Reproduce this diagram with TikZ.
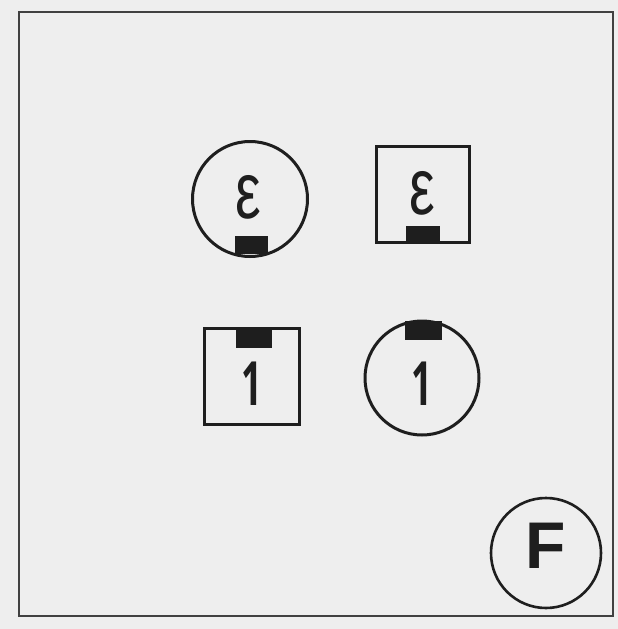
\documentclass[tikz,border=0pt]{standalone}
\usepackage{fontspec}
\setmainfont{Liberation Sans}
\newfontfamily\onefont{Open Sans}
\usepackage{graphicx}
\definecolor{bg}{HTML}{EEEEEE}
\definecolor{ink}{HTML}{1E1E1E}
\begin{document}
\begin{tikzpicture}[x=1pt,y=-1pt,
  outline/.style={draw=ink,line width=3pt},
  plug/.style={fill=ink,draw=none},
  glyph/.style={inner sep=0pt,text=ink}]
\fill[bg] (0,0) rectangle (618,629);
\useasboundingbox (0,0) rectangle (618,629);
\draw[draw=ink!85,line width=2.2pt] (19,12) rectangle (613,616);
% top-left circle with epsilon
\node[outline,circle,minimum size=115pt,inner sep=0pt] (c1) at (250,199) {};
\fill[plug] (235,236) rectangle (268,254);
\node[glyph] (e1) at (248,197) {\scalebox{0.72}[1]{\fontsize{80}{80}\selectfont ε}};
% top-right square with epsilon
\node[outline,rectangle,minimum width=93pt,minimum height=96pt,inner sep=0pt] (s1) at (422.5,194.5) {};
\fill[plug] (406,226) rectangle (439.5,241.5);
\node[glyph] (e2) at (422,193) {\scalebox{0.72}[1]{\fontsize{80}{80}\selectfont ε}};
% bottom-left square with 1
\node[outline,rectangle,minimum width=95pt,minimum height=96pt,inner sep=0pt] (s2) at (251.5,376.5) {};
\fill[plug] (236,329) rectangle (272,348);
\node[glyph] (o1) at (252,384) {\scalebox{0.6}[1]{\fontsize{61}{61}\onefont\bfseries 1}};
% bottom-right circle with 1
\node[outline,circle,minimum size=114pt,inner sep=0pt] (c2) at (422,378) {};
\fill[plug] (405,321) rectangle (442,340);
\node[glyph] (o2) at (422,384) {\scalebox{0.6}[1]{\fontsize{61}{61}\onefont\bfseries 1}};
% F circle
\node[outline,circle,minimum size=110pt,inner sep=0pt,line width=2.6pt] (cf) at (546,553) {};
\node[glyph] (f) at (546,546) {\fontsize{66}{66}\selectfont\bfseries F};
\end{tikzpicture}
\end{document}
